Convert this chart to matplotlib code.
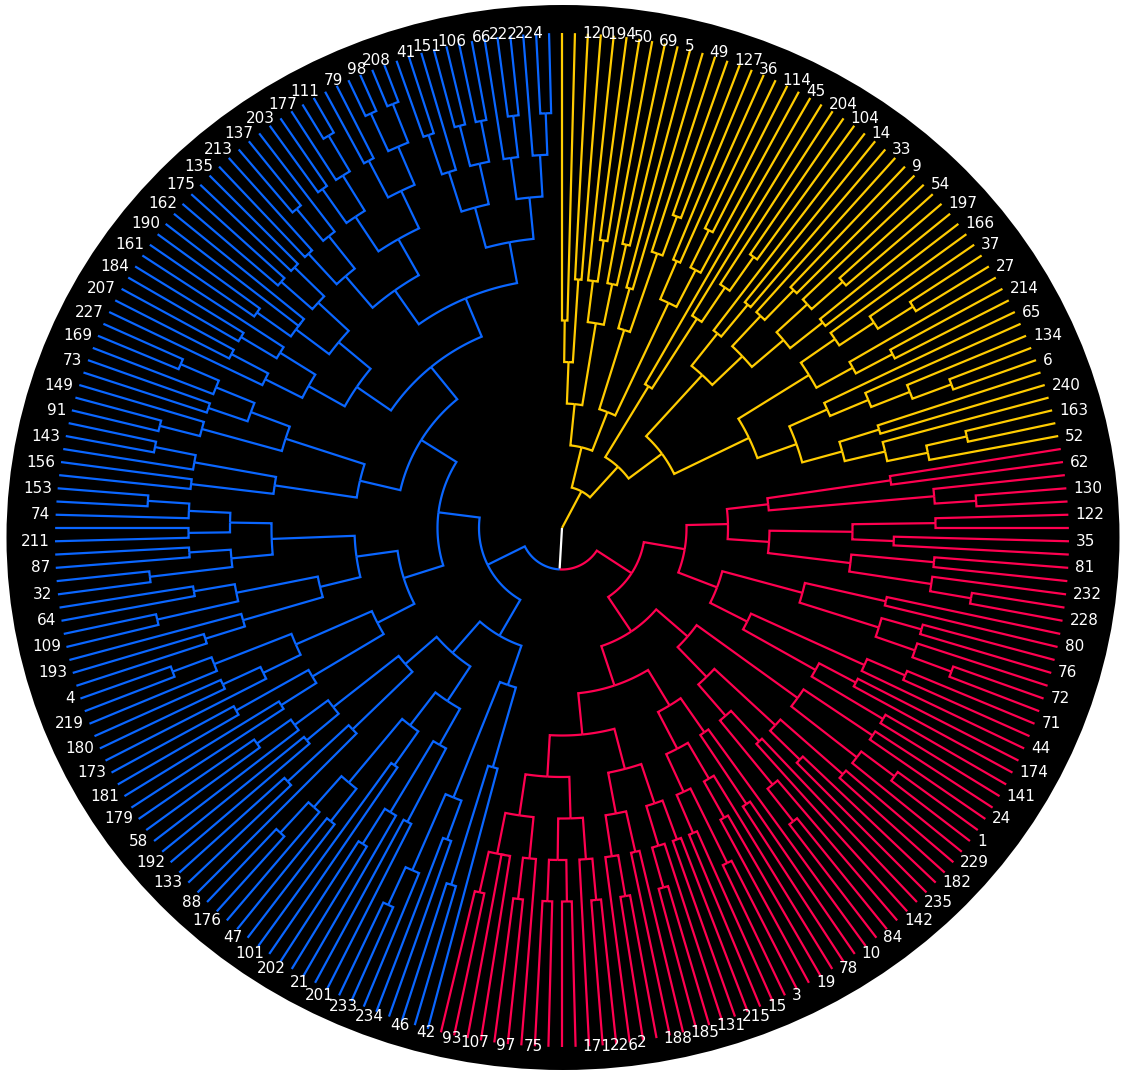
import numpy as np
import matplotlib.pyplot as plt
from matplotlib.patches import Ellipse

# labels shown around the circle, clockwise from the top (every second leaf is labelled)
yellow_labels = [120, 194, 50, 69, 5, 49, 127, 36, 114, 45, 204, 104, 14, 33, 9,
                 54, 197, 166, 37, 27, 214, 65, 134, 6, 240, 163, 52]
red_labels = [62, 130, 122, 35, 81, 232, 228, 80, 76, 72, 71, 44, 174, 141, 24,
              1, 229, 182, 235, 142, 84, 10, 78, 19, 3, 15, 215, 131, 185, 188,
              2, 226, 171, 75, 97, 107, 93, 42]
blue_labels = [46, 234, 233, 201, 21, 202, 101, 47, 176, 88, 133, 192, 58, 179,
               181, 173, 180, 219, 4, 193, 109, 64, 32, 87, 211, 74, 153, 156,
               143, 91, 149, 73, 169, 227, 207, 184, 161, 190, 162, 175, 135,
               213, 137, 203, 177, 111, 79, 98, 208, 41, 151, 106, 66, 222, 224]


def node(level, *kids):
    return "(" + ",".join(kids) + ")" + str(level)


# sub-trees: x = leaf, number after ")" = merge level (0 = centre, 12 = leaves)
# yellow cluster
ya1 = "(((x,x)5,(x,x)6)4,((x,(x,x)7)6,(x,(x,x)7)6)5)3"
ya2 = "(((x,x)6,(x,(x,x)8)7)5,((x,x)7,((x,x)8,x)7)6)3"
yb1 = "(x,(x,(x,(x,x)8)7)6)4"
yb2a = "((x,(x,x)7)6,((x,(x,x)8)7,((x,(x,x)9)8,(x,x)8)7)6)5"
yg1 = "((x,(x,(x,x)10)9)8,(x,(x,x)9)8)7"
yg2 = "(x,(x,(x,(x,x)10)9)8)7"
yg3 = "((x,x)8,(x,((x,x)10,x)9)8)7"
yellow_tree = node(1, node(2, ya1, ya2),
                   node(2, yb1, node(3, yb2a, node(5, yg1, node(6, yg2, yg3)))))

# red cluster
r1a1 = "((x,x)8,(x,(x,x)10)9)5"
r1a2 = "(((x,x)9,(x,x)8)7,((x,x)9,(x,(x,x)10)9)7)5"
r1b1 = "((x,x)8,((x,x)9,(x,(x,x)10)9)8)6"
r1b2 = "(((x,x)9,x)8,((x,x)8,(x,x)9)7)5"
r2a = "(((x,x)9,((x,x)10,x)9)7,(((x,x)9,(x,x)8)7,((x,x)7,(x,(x,x)9)8)6)5)4"
r2b2 = "((x,(x,x)8)6,((x,(x,x)8)7,((x,x)9,(x,x)8)7)6)5"
r2b1b = "(((x,x)8,(x,(x,x)9)8)7,((x,x)8,((x,x)9,x)8)7)6"
r2b1a = "((((x,x)9,x)8,((x,x)9,(x,x)9)8)7,((x,(x,x)9)8,((x,x)8,(x,x)9)8)7)6"
red_tree = node(2, node(3, node(4, r1a1, r1a2), node(4, r1b1, r1b2)),
                node(3, r2a, node(4, r2b2, node(5, r2b1b, r2b1a))))

# blue cluster
b2a = "((x,(x,x)9)6,((x,x)8,(x,(x,x)10)9)7)4"
b2b1 = "(((x,x)8,(x,(x,x)9)8)6,((x,x)7,((x,x)9,(x,(x,x)10)9)8)6)5"
b2b2 = "((x,(x,x)9)7,((x,x)8,(x,(x,x)9)8)7)5"
b1a2 = "(((x,x)8,(x,x)9)7,((x,(x,x)9)8,(x,(x,x)10)9)7)5"
b1a1 = "((((x,x)9,x)8,((x,x)10,(x,x)9)8)6,(((x,x)10,(x,x)9)8,((x,x)9,(x,(x,x)10)9)8)7)5"
b1b1 = "(((x,x)9,(x,(x,x)10)9)7,(((x,x)10,x)9,((x,x)9,(x,(x,x)10)9)8)7)5"
b1b2a = "(((x,(x,x)9)8,((x,x)9,x)8)7,(((x,x)9,(x,x)8)8,((x,x)9,(x,x)9)8)7)6"
b1b2b1 = "(((x,x)9,((x,x)10,x)9)8,(((x,x)10,(x,(x,x)11)10)9,((x,x)10,((x,x)11,(x,x)11)10)9)8)7"
b1b2b2 = "((((x,x)10,x)9,((x,x)10,(x,x)10)9)8,((x,(x,x)10)9,(x,(x,x)10)9)8)7"
blue_tree = node(2, node(3, b2a, node(4, b2b1, b2b2)),
                 node(3, node(4, b1a2, b1a1),
                      node(4, b1b1, node(5, b1b2a, node(6, b1b2b1, b1b2b2)))))

cluster_colors = ["#ffcc00", "#ff0050", "#0a66ff"]
root_color = "white"
n_levels = 12
px_per_level = 41.5
ring_shift = 12 / px_per_level     # leaf ring sits a little lower than the tree centre
ring_radius = 507 / px_per_level


def parse(s, color):
    pos = 0

    def walk():
        nonlocal pos
        if s[pos] == "x":
            pos += 1
            return {"kids": [], "level": None, "color": color}
        pos += 1
        kids = [walk()]
        while s[pos] == ",":
            pos += 1
            kids.append(walk())
        pos += 1
        start = pos
        while pos < len(s) and s[pos].isdigit():
            pos += 1
        return {"kids": kids, "level": int(s[start:pos]), "color": color}

    return walk()


yellow = parse(yellow_tree, cluster_colors[0])
red = parse(red_tree, cluster_colors[1])
blue = parse(blue_tree, cluster_colors[2])
red_blue = {"kids": [red, blue], "level": 1, "color": root_color}
root = {"kids": [yellow, red_blue], "level": 0, "color": root_color}

leaves = []


def collect(n):
    if not n["kids"]:
        leaves.append(n)
    for k in n["kids"]:
        collect(k)


collect(root)
n_leaves = len(leaves)
for i, lf in enumerate(leaves):
    th = i * 2 * np.pi / n_leaves
    lf["theta"] = th
    lf["level"] = -ring_shift * np.cos(th) + np.sqrt(ring_radius ** 2 - (ring_shift * np.sin(th)) ** 2)


def place(n):
    if n["kids"]:
        n["theta"] = np.mean([place(k) for k in n["kids"]])
    return n["theta"]


place(root)

label_list = []
for group in (yellow_labels, red_labels, blue_labels):
    for lab in group:
        label_list += ["", str(lab)]

fig = plt.figure(figsize=(11.24, 10.76), dpi=100)
fig.patch.set_facecolor("white")
fig.add_artist(Ellipse((563 / 1124, 1 - 537.5 / 1076), 1113 / 1124, 1065 / 1076,
                       transform=fig.transFigure, facecolor="black",
                       edgecolor="none", zorder=0))

half = 560
ax = fig.add_axes([(562 - half) / 1124, (1076 - 528 - half) / 1076,
                   2 * half / 1124, 2 * half / 1076], projection="polar")
ax.set_zorder(1)
ax.patch.set_alpha(0)
ax.set_theta_zero_location("N")
ax.set_theta_direction(-1)
ax.set_ylim(0, half / px_per_level)
ax.grid(False)
ax.set_xticks([])
ax.set_yticks([])
ax.spines["polar"].set_visible(False)


def draw(n):
    for k in n["kids"]:
        t = np.linspace(n["theta"], k["theta"], 30)
        r = np.full_like(t, n["level"])
        t = np.append(t, k["theta"])
        r = np.append(r, k["level"])
        ax.plot(t, r, color=k["color"], lw=1.6, solid_joinstyle="miter",
                solid_capstyle="butt")
        draw(k)


draw(root)

for lf, lab in zip(leaves, label_list):
    if not lab:
        continue
    right = np.sin(lf["theta"]) > 0.001
    ax.annotate(lab, xy=(lf["theta"], lf["level"]), xytext=(5 if right else -4, 0),
                textcoords="offset points", color="white", fontsize=11,
                ha="left" if right else "right", va="center", annotation_clip=False)

fig.savefig("out.png", dpi=100)
